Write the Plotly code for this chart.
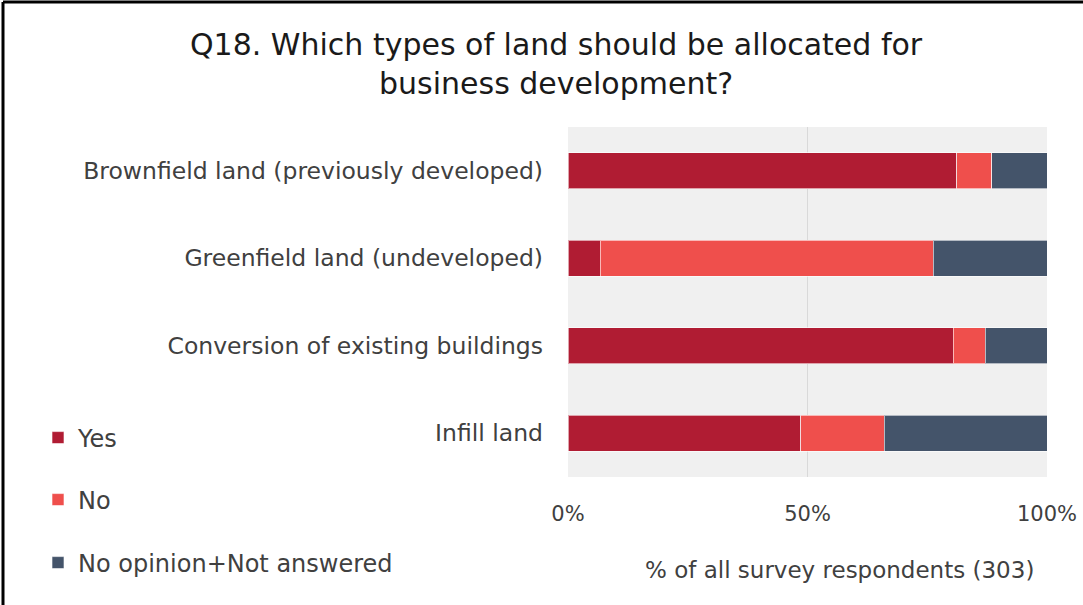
import plotly.graph_objects as go

categories = ["Brownfield land (previously developed)", "Greenfield land (undeveloped)",
              "Conversion of existing buildings", "Infill land"]
yes = [81.2, 6.7, 80.4, 48.6]
no = [7.3, 69.5, 6.7, 17.4]
no_opinion = [11.5, 23.8, 12.9, 34.0]
series_names = ["Yes", "No", "No opinion+Not answered"]
colors = ["#b01c33", "#ef4f4c", "#44546a"]
x_ticks = [0, 50, 100]
x_ticklabels = ["0%", "50%", "100%"]

W, H = 1083, 605
L, R, T, B = 568, 1047, 127, 477

def px(x):
    return (x - L) / (R - L)

def py(y):
    return (B - y) / (B - T)

FONT = "DejaVu Sans"
TXT = "#404040"

fig = go.Figure()
legends = ["legend2", "legend3", "legend4"]
for name, vals, col, lg in zip(series_names, [yes, no, no_opinion], colors, legends):
    fig.add_trace(go.Bar(
        y=categories, x=vals, name=name, orientation="h", showlegend=True,
        marker=dict(color=col, line=dict(width=1, color="rgba(255,255,255,0.6)")),
        legend=lg,
    ))

leg_common = dict(font=dict(family=FONT, size=24, color=TXT), bgcolor="rgba(0,0,0,0)",
                  xanchor="left", yanchor="middle", itemwidth=30)
fig.update_layout(
    width=W, height=H,
    margin=dict(l=L, r=W - R, t=T, b=H - B, autoexpand=False),
    barmode="stack", bargap=0.59, showlegend=True,
    paper_bgcolor="white", plot_bgcolor="#f0f0f0",
    font=dict(family=FONT, color=TXT),
    legend2=dict(x=px(38), y=py(438), **leg_common),
    legend3=dict(x=px(38), y=py(500), **leg_common),
    legend4=dict(x=px(38), y=py(563), **leg_common),
    xaxis=dict(range=[0, 100], tickvals=x_ticks, ticktext=x_ticklabels,
               showgrid=True, gridcolor="#d9d9d9", gridwidth=1, zeroline=False,
               tickfont=dict(family=FONT, size=21, color=TXT), ticklabelstandoff=22,
               fixedrange=True),
    yaxis=dict(categoryorder="array", categoryarray=categories, autorange="reversed",
               tickfont=dict(family=FONT, size=23.5, color=TXT), ticklabelstandoff=24,
               showgrid=False, fixedrange=True),
    annotations=[
        dict(text="Q18. Which types of land should be allocated for<br>business development?",
             x=px(556), y=py(64), xref="paper", yref="paper", xanchor="center", yanchor="middle",
             showarrow=False, font=dict(family=FONT, size=30, color="#1a1a1a")),
        dict(text="% of all survey respondents (303)",
             x=px(839), y=py(570), xref="paper", yref="paper", xanchor="center", yanchor="middle",
             showarrow=False, font=dict(family=FONT, size=23, color=TXT)),
    ],
    shapes=[
        dict(type="line", xref="paper", yref="paper", x0=px(3), x1=px(1083), y0=py(2), y1=py(2),
             line=dict(color="black", width=3)),
        dict(type="line", xref="paper", yref="paper", x0=px(3), x1=px(3), y0=py(2), y1=py(605),
             line=dict(color="black", width=3)),
    ],
)
fig.write_html("out.html", config={"displayModeBar": False},
               post_script="document.body.style.margin='0';")
